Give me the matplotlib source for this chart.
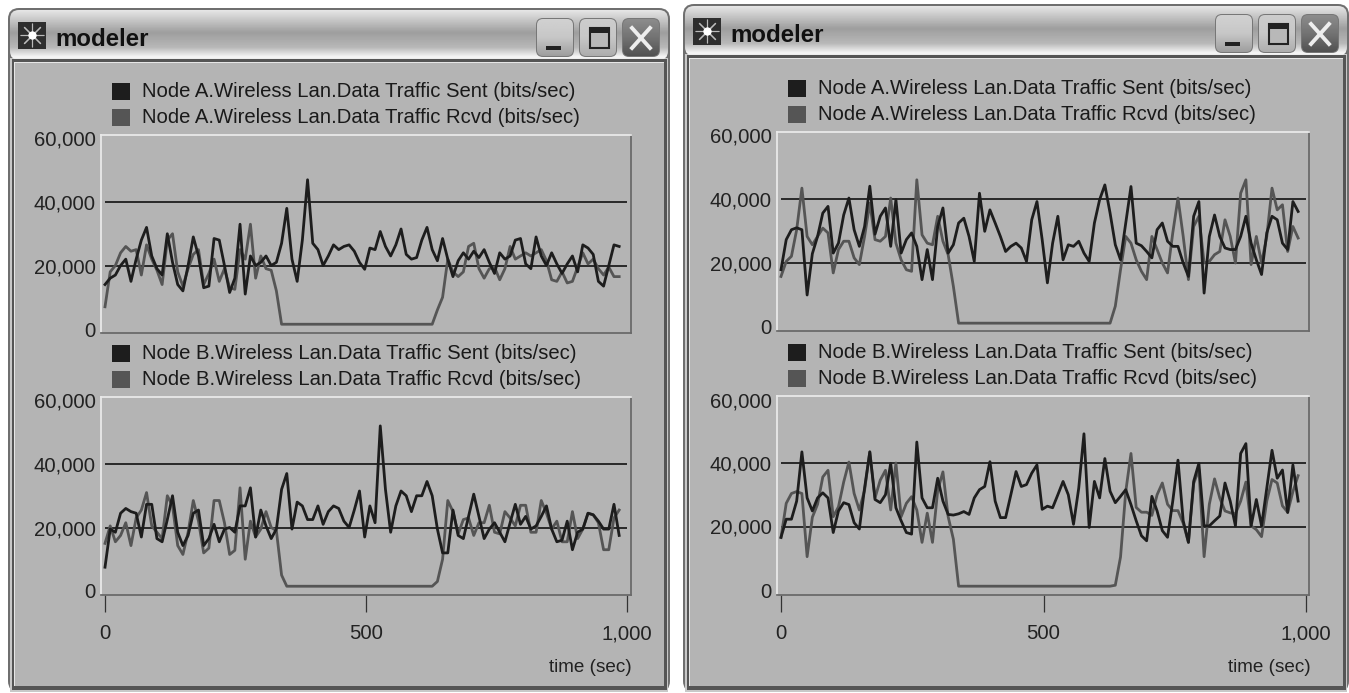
import numpy as np
import matplotlib
matplotlib.use("Agg")
import matplotlib.pyplot as plt
import matplotlib.patches as pt

plt.rcParams['font.family'] = ['Liberation Sans', 'DejaVu Sans']

# sample times, same for every trace
tiempo = np.linspace(0, 985, 100)

# left window, node A
a1_sent = [14000,16000,17000,20000,22000,15000,22000,28000,32000,23000,
           19000,17000,30000,21000,14000,12000,20000,29000,23000,13000,
           13500,28500,28000,20000,11500,16000,33000,11000,23000,20000,
           21000,23000,20000,21000,27000,38000,22000,15000,28000,47000,
           27000,25000,20000,23000,26500,25000,26000,26500,24500,21000,
           18800,25500,25000,30700,26000,23000,26500,31500,23500,22000,
           22500,28000,32000,25000,21500,28500,22000,16500,21500,24000,
           22000,24500,22500,25000,21000,17500,24000,22000,23000,28000,
           28500,20500,19000,29000,23000,20000,24000,20500,17500,20500,
           23000,18000,26500,25500,23500,15000,13500,20000,26500,26000]
a1_rcvd = [7000,18000,20000,24000,26000,24500,25000,17000,26500,22000,
           18500,14000,28000,30000,18000,13500,19000,23500,25000,14000,
           17500,22000,15000,19000,13000,12500,25000,22000,33000,16000,
           23000,19000,18500,12000,1500,1500,1500,1500,1500,1500,
           1500,1500,1500,1500,1500,1500,1500,1500,1500,1500,
           1500,1500,1500,1500,1500,1500,1500,1500,1500,1500,
           1500,1500,1500,1500,6000,10000,22000,18000,16500,18000,
           26000,27000,19000,16000,19000,19500,15500,19000,26000,22000,
           23000,24000,23000,24000,25000,21500,15500,15000,18000,14500,
           15000,19500,24000,20500,22000,19000,17000,19500,16500,16500]

# left window, node B
b1_sent = [7500,19500,18500,24500,26000,25000,24500,17000,27300,27300,
           16500,15500,22500,30000,18500,14300,17500,24500,25500,14300,
           16500,21000,15500,19500,20000,18500,26800,26800,32500,17000,
           25500,20500,16500,19500,32000,37000,19500,28000,26800,22500,
           22500,26800,21000,25000,26800,26000,22000,20000,25500,31500,
           17000,26800,21500,52000,32000,18500,26800,31500,30000,25000,
           30000,30000,34500,30000,19500,12000,12000,25500,17500,16500,
           23500,30500,23500,16500,19500,21500,18500,15500,21500,27300,
           21000,23500,19500,20500,23500,26800,19500,15500,16000,22000,
           13000,18500,19500,24500,24000,22000,19500,19500,27300,17500]
b1_rcvd = [15000,20500,15500,17500,21500,14300,23000,25500,31000,20500,
           18500,16500,30000,26800,14300,11500,18500,28500,22000,12000,
           13500,28500,28500,21500,11500,12800,32500,10000,22000,17000,
           19500,25000,20000,19000,5000,1500,1500,1500,1500,1500,
           1500,1500,1500,1500,1500,1500,1500,1500,1500,1500,
           1500,1500,1500,1500,1500,1500,1500,1500,1500,1500,
           1500,1500,1500,1500,3000,10000,28500,25000,18000,22500,
           23000,17500,21500,21500,27000,18500,18000,25000,23000,20500,
           27000,27000,18500,18500,28500,24500,19500,22000,15500,15500,
           25000,16500,19500,24500,24000,21500,13000,13000,23000,25500]

# right window, node A
a2_sent = [17900,27300,30400,31000,30400,10000,22900,28300,35600,37700,
           23100,26200,35000,40300,30400,25200,31400,44000,29000,34600,
           37200,25200,39800,23100,27300,29400,25200,14800,24200,14800,
           31400,37200,23100,25700,32500,34000,28300,20500,41800,29900,
           36600,32500,28300,23600,25200,26200,24700,20500,33500,39200,
           27300,13800,26200,34600,21000,25700,25200,26800,23100,20500,
           32500,39800,44400,35600,25700,21000,32500,43900,26200,25400,
           23600,21600,30400,32500,26800,25200,25200,20000,15800,34600,
           39200,10600,28300,35000,28300,24700,24200,24200,28300,34600,
           26200,21000,16400,29400,34600,33500,26200,24200,39200,36100]
a2_rcvd = [15800,20500,22100,30400,43400,28300,25700,28300,30900,29400,
           16900,24200,26800,26800,21600,19500,28300,38700,27300,26800,
           28300,40300,26200,21000,17900,17400,46000,28800,26200,25700,
           34600,26800,22600,12700,1200,1200,1200,1200,1200,1200,
           1200,1200,1200,1200,1200,1200,1200,1200,1200,1200,
           1200,1200,1200,1200,1200,1200,1200,1200,1200,1200,
           1200,1200,1200,1200,6500,17900,28300,26200,21000,17400,
           14800,28300,24200,20000,16900,29400,40300,28300,14800,31400,
           34600,20000,20500,22600,23600,33500,28300,20000,41800,46000,
           19500,28300,20000,28300,43400,36600,38200,23600,31400,27800]

# right window, node B
b2_sent = [16600,22300,22300,28000,43500,29000,24900,29000,30600,29000,
           18100,24900,27500,26900,21200,19200,32100,43500,28500,27500,
           30000,39900,25900,21800,18100,17600,46600,29000,25900,25900,
           35200,28000,23800,23600,24000,24700,23800,29000,31600,32600,
           40400,28000,22800,22800,30000,37300,32600,33200,36800,39400,
           25400,26400,25900,30000,34200,30000,20700,32100,49200,19700,
           34200,29000,41400,31100,27500,29500,31600,26900,21800,17100,
           15500,29500,24900,18700,16600,28000,40900,21800,15000,34200,
           39900,20200,20200,21800,23300,33700,28000,20200,43000,46100,
           20200,28500,20200,32100,44000,35200,37800,24400,39400,28000]
b2_rcvd = [16500,27300,30400,31000,30400,10500,22900,27000,35600,37700,
           23100,26200,34000,40300,30400,25200,31400,43500,29000,34600,
           37700,25200,40000,23100,27300,29400,25200,15000,24200,15000,
           31400,37200,23100,16000,1200,1200,1200,1200,1200,1200,
           1200,1200,1200,1200,1200,1200,1200,1200,1200,1200,
           1200,1200,1200,1200,1200,1200,1200,1200,1200,1200,
           1200,1200,1200,1200,1500,10400,31000,43000,26000,24500,
           24500,23500,30000,33700,27000,25000,25000,21000,15000,33500,
           38000,10500,27000,35000,29000,24900,24300,24000,28000,34000,
           20200,19000,16800,28000,34800,33700,26500,24500,31000,36000]

y_ticks = [0, 20000, 40000, 60000]
y_labels = ['0', '20,000', '40,000', '60,000']
x_ticks = [0, 500, 1000]
x_labels = ['0', '500', '1,000']

GRIS = '#b4b4b4'
NEGRO = '#1d1d1d'
OSCURO = '#555555'
W, H = 1349, 693

fig = plt.figure(figsize=(W / 100, H / 100), dpi=100, facecolor='white')
bg = fig.add_axes([0, 0, 1, 1], zorder=0)
bg.axis('off')


def degradado(x0, y0, x1, y1, pos, val, radio, zorder):
    grad = np.interp(np.linspace(0, 1, 60), pos, val).reshape(-1, 1)
    im = bg.imshow(grad, cmap='gray', vmin=0, vmax=1, extent=(x0, x1, y1, y0), aspect='auto', zorder=zorder)
    clip = pt.FancyBboxPatch((x0, y0), x1 - x0, y1 - y0, boxstyle='round,pad=0,rounding_size=%d' % radio,
                             transform=bg.transData)
    im.set_clip_path(clip)


def ventana(x0, y0, x1, y1):
    bg.add_patch(pt.FancyBboxPatch((x0, y0), x1 - x0, y1 - y0, boxstyle='round,pad=0,rounding_size=11',
                                   fc='#6f6f6f', ec='none', zorder=1))
    bg.add_patch(pt.Rectangle((x0 + 2, y0 + 50), x1 - x0 - 4, y1 - y0 - 50, fc='#c8c8c8', ec='none', zorder=1.1))
    # title bar
    degradado(x0 + 2, y0 + 2, x1 - 2, y0 + 52, [0, 0.08, 0.45, 0.75, 0.95, 1],
              [0.9, 0.85, 0.62, 0.72, 0.97, 0.9], 9, 1.2)
    # inner frame: thin on the left and top, thick on the right and bottom
    bg.add_patch(pt.Rectangle((x0 + 4, y0 + 51), x1 - x0 - 7, y1 - y0 - 53, fc='#555555', ec='none', zorder=1.3))
    bg.add_patch(pt.Rectangle((x0 + 6, y0 + 54), x1 - x0 - 12, y1 - y0 - 60, fc='#e6e6e6', ec='none', zorder=1.4))
    bg.add_patch(pt.Rectangle((x0 + 7, y0 + 55), x1 - x0 - 13, y1 - y0 - 61, fc=GRIS, ec='none', zorder=1.5))
    # icon
    bg.add_patch(pt.Rectangle((x0 + 10, y0 + 14), 28, 27, fc='#2e2e2e', ec='none', zorder=2))
    bg.plot([x0 + 24], [y0 + 27], marker=(8, 2, 0), ms=17, color='#bbbbbb', mew=0.8, zorder=2.1)
    bg.plot([x0 + 24], [y0 + 27], marker='o', ms=6, color='white', mew=0, zorder=2.2)
    bg.text(x0 + 47, y0 + 31, 'modeler', fontsize=17.3, fontweight='bold', color='#111111',
            va='center', ha='left', zorder=3)
    # buttons
    bx = x1 - 133
    claros = [[0.82, 0.78, 0.62], [0.8, 0.78, 0.68], [0.55, 0.45, 0.32]]
    for i, val in enumerate(claros):
        bg.add_patch(pt.FancyBboxPatch((bx + i * 43 - 1, y0 + 10), 38, 39, boxstyle='round,pad=0,rounding_size=7',
                                       fc='#777777', ec='none', zorder=2))
        degradado(bx + i * 43, y0 + 11, bx + i * 43 + 36, y0 + 48, [0, 0.5, 1], val, 6, 2.1)
    bg.add_patch(pt.Rectangle((bx + 9, y0 + 38), 15, 4, fc='#222222', ec='none', zorder=3))
    bg.add_patch(pt.Rectangle((bx + 53, y0 + 20), 19, 20, fc='#b8b8b8', ec='#222222', lw=1.5, zorder=3))
    bg.add_patch(pt.Rectangle((bx + 53, y0 + 20), 19, 5, fc='#222222', ec='none', zorder=3))
    bg.plot([bx + 95, bx + 113], [y0 + 20, y0 + 40], color='#eeeeee', lw=2.8, zorder=3)
    bg.plot([bx + 95, bx + 113], [y0 + 40, y0 + 20], color='#eeeeee', lw=2.8, zorder=3)


def panel(izq, der, arriba, abajo, px0, px1000, py0, py40, sent, rcvd, nodo, etiquetas):
    ax = fig.add_axes([izq / W, 1 - abajo / H, (der - izq) / W, (abajo - arriba) / H], zorder=2)
    ax.set_facecolor(GRIS)
    esc_x = 1000 / (px1000 - px0)
    esc_y = 40000 / (py0 - py40)
    ax.set_xlim((izq - px0) * esc_x, (der - px0) * esc_x)
    ax.set_ylim((py0 - abajo) * esc_y, (py0 - arriba) * esc_y)
    for lado, c in [('left', '#e9e9e9'), ('top', '#e9e9e9'), ('right', '#6a6a6a'), ('bottom', '#6a6a6a')]:
        ax.spines[lado].set_color(c)
        ax.spines[lado].set_linewidth(1.3)
    ax.hlines([20000, 40000], 0, 1000, color='#111111', lw=1.2, zorder=2)
    ax.plot(tiempo, rcvd, color=OSCURO, lw=2.0, zorder=3)
    ax.plot(tiempo, sent, color=NEGRO, lw=2.0, zorder=4)
    ax.set_yticks(y_ticks, y_labels, fontsize=14.6, color='#222222')
    ax.tick_params(axis='y', length=0, pad=4)
    if etiquetas:
        ax.set_xticks(x_ticks, x_labels, fontsize=14.6, color='#222222')
        ax.tick_params(axis='x', length=12, width=0.9, color='#333333', pad=9)
    else:
        ax.set_xticks([])
    # legend above the axes
    lx = px0 + 7
    for i, (nom, c) in enumerate([('Sent', NEGRO), ('Rcvd', OSCURO)]):
        yc = arriba - 44 + 26 * i
        bg.add_patch(pt.Rectangle((lx, yc - 8), 18, 17, fc=c, ec='none', zorder=3))
        bg.text(lx + 30, yc + 0.5, 'Node %s.Wireless Lan.Data Traffic %s (bits/sec)' % (nodo, nom),
                fontsize=14.55, color='#1a1a1a', va='center', ha='left', zorder=3)
    return ax


ventana(8, 8, 670, 692)
ventana(683, 4, 1349, 692)

panel(101, 631, 135, 333, 105, 627, 329, 202, a1_sent, a1_rcvd, 'A', False)
panel(101, 631, 397, 595, 105, 627, 591, 464, b1_sent, b1_rcvd, 'B', True)
panel(777, 1309, 132, 331, 781, 1306, 327, 199, a2_sent, a2_rcvd, 'A', False)
panel(777, 1309, 396, 595, 781, 1306, 590, 463, b2_sent, b2_rcvd, 'B', True)

bg.text(632, 667, 'time (sec)', fontsize=13.6, color='#222222', ha='right', va='center', zorder=3)
bg.text(1311, 667, 'time (sec)', fontsize=13.6, color='#222222', ha='right', va='center', zorder=3)

bg.set_xlim(0, W)
bg.set_ylim(H, 0)

fig.savefig('out.png', dpi=100)
